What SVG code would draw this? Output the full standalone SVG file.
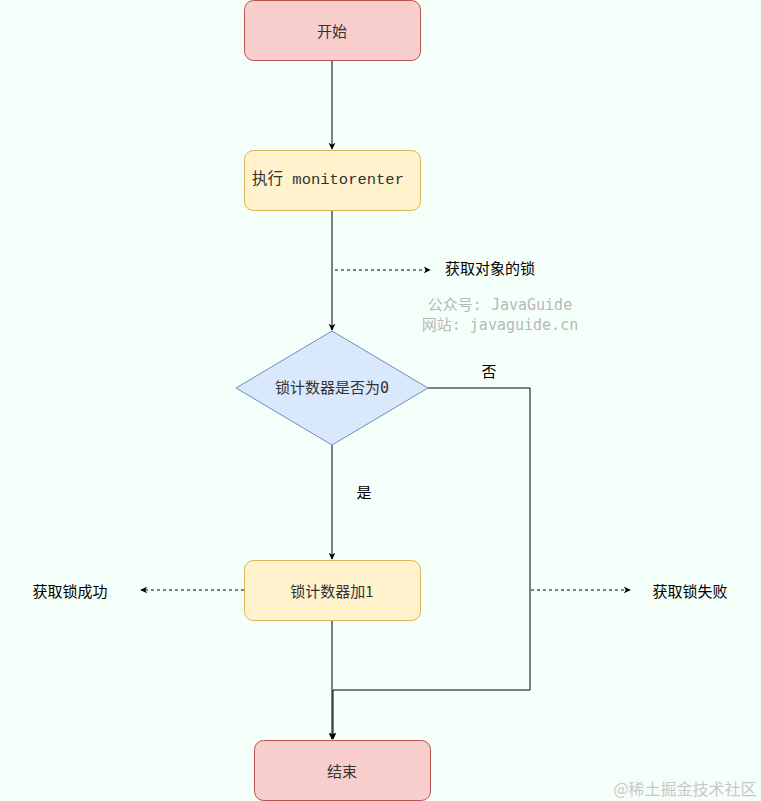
<svg xmlns="http://www.w3.org/2000/svg" width="761" height="801" viewBox="0 0 761 801">
<defs>
<marker id="arr" viewBox="0 0 10 10" refX="9" refY="5" markerWidth="7" markerHeight="7" orient="auto" markerUnits="userSpaceOnUse">
<path d="M0,0 L10,5 L0,10 L3,5 z" fill="#000"/>
</marker>
<style>
.red{fill:#f8cecc;stroke:#b85450;stroke-width:1}
.yel{fill:#fff2cc;stroke:#d6b656;stroke-width:1}
.blu{fill:#dae8fc;stroke:#6c8ebf;stroke-width:1}
.t{font-family:"Noto Sans CJK SC","Noto Sans",sans-serif;font-size:15px;fill:#333;text-anchor:middle;dominant-baseline:central}
.m{font-family:"Liberation Mono","Noto Sans CJK SC",monospace;font-size:15.5px;fill:#333;text-anchor:middle;dominant-baseline:central}
.dm{font-family:"DejaVu Sans Mono","Noto Sans CJK SC",monospace;font-size:15px;fill:#333;text-anchor:middle;dominant-baseline:central}
.lbl{font-family:"Noto Sans CJK SC","Noto Sans",sans-serif;font-size:15px;fill:#000;text-anchor:middle;dominant-baseline:central}
.wm{font-family:"DejaVu Sans Mono","Noto Sans CJK SC",monospace;font-size:15px;fill:#b8b8b8;text-anchor:middle;dominant-baseline:central}
.ln{fill:none;stroke:#000;stroke-width:1}
.ds{fill:none;stroke:#000;stroke-width:1;stroke-dasharray:3,3}
</style>
</defs>
<rect width="761" height="801" fill="#f5fff9"/>
<g id="connectors">
<line class="ln" x1="332" y1="60" x2="332" y2="149" marker-end="url(#arr)"/>
<line class="ln" x1="332" y1="210" x2="332" y2="330" marker-end="url(#arr)"/>
<line class="ds" x1="335" y1="270" x2="430" y2="270" marker-end="url(#arr)"/>
<line class="ln" x1="332" y1="445" x2="332" y2="559" marker-end="url(#arr)"/>
<polyline class="ln" points="428,388 530,388 530,690 333,690 333,739" marker-end="url(#arr)"/>
<line class="ln" x1="332" y1="620" x2="332" y2="739" marker-end="url(#arr)"/>
<line class="ds" x1="244" y1="590" x2="141" y2="590" marker-end="url(#arr)"/>
<line class="ds" x1="531" y1="590" x2="630" y2="590" marker-end="url(#arr)"/>
<text class="lbl" x="489" y="370">否</text>
<text class="lbl" x="364" y="491">是</text>
</g>
<g id="start"><rect class="red" x="244.5" y="0.5" width="176" height="60" rx="9"/><text class="t" x="332" y="30">开始</text></g>
<g id="monitorenter"><rect class="yel" x="244.5" y="150.5" width="176" height="60" rx="9"/><text class="m" x="328" y="180">执行 monitorenter</text></g>
<g id="getlock"><text class="lbl" x="490" y="267">获取对象的锁</text></g>
<g id="watermark1"><text class="wm" x="500" y="305">公众号: JavaGuide</text><text class="wm" x="500" y="325">网站: javaguide.cn</text></g>
<g id="decision"><polygon class="blu" points="332,331 428,388 332,445 236,388"/><text class="dm" x="332" y="388">锁计数器是否为0</text></g>
<g id="increment"><rect class="yel" x="244.5" y="560.5" width="176" height="60" rx="9"/><text class="t" x="332" y="590">锁计数器加1</text></g>
<g id="success"><text class="lbl" x="70" y="590">获取锁成功</text></g>
<g id="fail"><text class="lbl" x="690" y="590">获取锁失败</text></g>
<g id="end"><rect class="red" x="254.5" y="740.5" width="176" height="60" rx="9"/><text class="t" x="342" y="770">结束</text></g>
<g id="watermark2"><text x="685" y="788" style="font-family:'Noto Sans CJK SC',serif;font-size:16px;fill:#c8c8c8;text-anchor:middle;dominant-baseline:central">@稀土掘金技术社区</text></g>
</svg>
